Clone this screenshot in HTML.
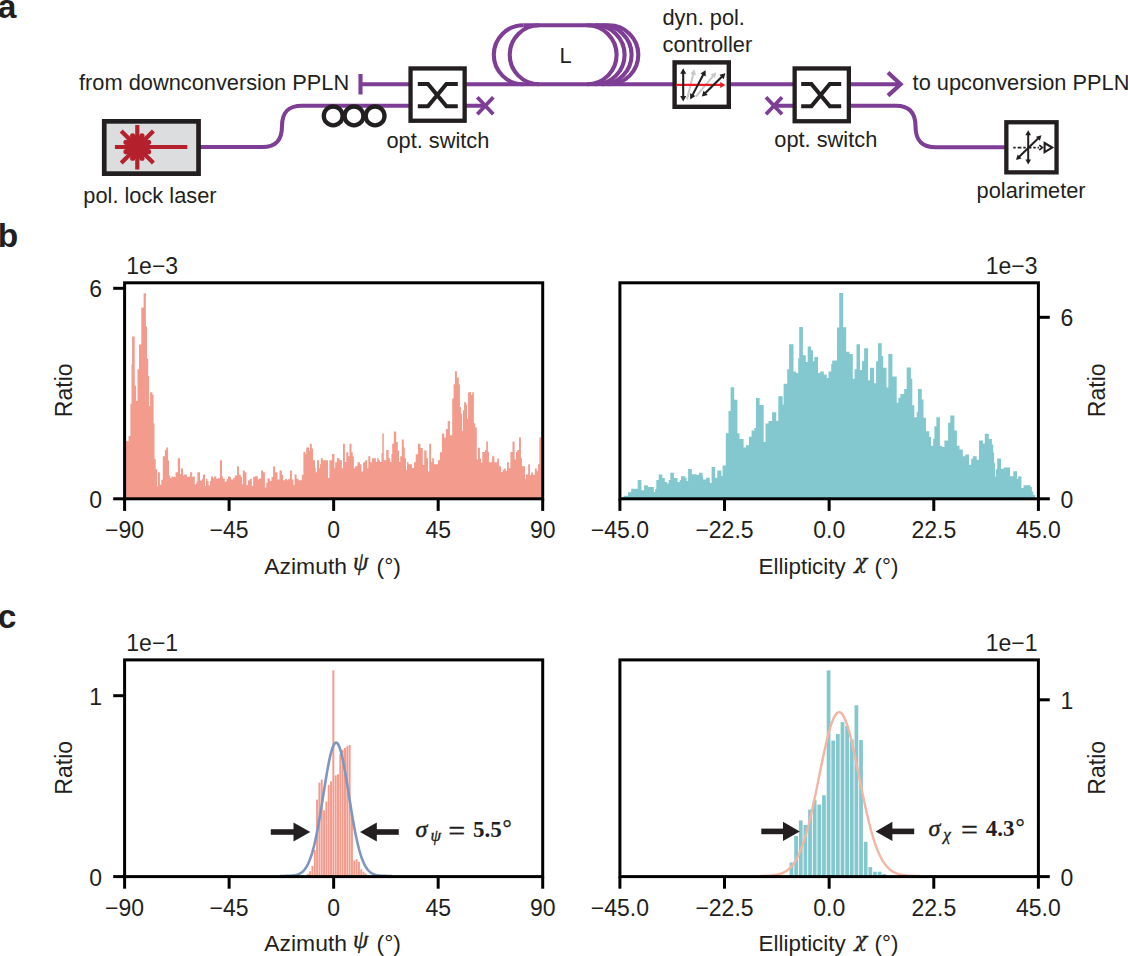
<!DOCTYPE html>
<html lang="en"><head><meta charset="utf-8"><title>Figure</title>
<style>html,body{margin:0;padding:0;background:#fff}svg{display:block}</style></head>
<body>
<svg width="1128" height="956" viewBox="0 0 1128 956" font-family="'Liberation Sans', Arial, Helvetica, sans-serif" fill="#231F20">
<rect width="1128" height="956" fill="#fff"/>
<g id="panel-a" fill="none" stroke="#7E3E96" stroke-width="4.1" stroke-linejoin="round">
<path d="M360.5,74 V94.5 M360.5,84.3 H412"/>
<path d="M199,147 H262.5 C275,147 282,141 282,126 C282,111 289,105.7 302,105.7 H412"/>
<path d="M464,84.3 H676 M464,105.7 H485"/>
<path d="M477.3,97.2 L493.3,114.2 M477.3,114.2 L493.3,97.2" stroke-width="3.8"/>
<path d="M766,97.3 L782,114.3 M766,114.3 L782,97.3" stroke-width="3.8"/>
<path d="M523.3,84.3 A29.5,29.5 0 0 1 523.3,25.299999999999997"/>
<path d="M539.2,84.3 A29.5,29.5 0 0 1 539.2,25.299999999999997"/>
<path d="M608.8,25.299999999999997 A29.5,29.5 0 0 1 608.8,84.3"/>
<path d="M602.1,25.299999999999997 A29.5,29.5 0 0 1 602.1,84.3"/>
<path d="M595.1,25.299999999999997 A29.5,29.5 0 0 1 595.1,84.3"/>
<path d="M587.1,25.299999999999997 A29.5,29.5 0 0 1 587.1,84.3"/>
<path d="M523.3,25.299999999999997 H608.8"/>
<path d="M729,84.3 H795 M774,105.8 H795"/>
<path d="M849,84.3 H899.5"/>
<path d="M888,72.5 L900.6,84.3 L888,95.6" stroke-linejoin="miter"/>
<path d="M849,105.7 H896 C909,105.7 915.5,112 915.5,126 C915.5,141 922,147.3 936,147.3 H1006"/>
</g>
<g fill="none" stroke="#231F20" stroke-width="4.3">
<circle cx="333.2" cy="115.9" r="9.4"/>
<circle cx="354.0" cy="115.9" r="9.4"/>
<circle cx="375.1" cy="115.9" r="9.4"/>
</g>
<rect x="104.25" y="121.35" width="94.30" height="52.30" fill="#DCDDDE" stroke="#231F20" stroke-width="4.7"/>
<rect x="410.55" y="68.45" width="54.10" height="52.30" fill="#fff" stroke="#231F20" stroke-width="4.3"/>
<rect x="674.60" y="62.40" width="54.20" height="44.40" fill="#fff" stroke="#231F20" stroke-width="4.4"/>
<rect x="794.65" y="68.45" width="54.20" height="52.80" fill="#fff" stroke="#231F20" stroke-width="4.3"/>
<rect x="1006.35" y="122.25" width="50.20" height="50.10" fill="#fff" stroke="#231F20" stroke-width="4.3"/>
<path d="M417.8,84 H428.0 L446.40000000000003,106.3 H457.8 M417.8,106.3 H428.0 L446.40000000000003,84 H457.8" fill="none" stroke="#231F20" stroke-width="4.1" stroke-linejoin="miter"/>
<path d="M801.2,84 H811.4000000000001 L829.8000000000001,106.3 H841.2 M801.2,106.3 H811.4000000000001 L829.8000000000001,84 H841.2" fill="none" stroke="#231F20" stroke-width="4.1" stroke-linejoin="miter"/>
<g stroke="#B5202D" stroke-width="4.2" fill="#B5202D">
<path d="M137.3,124.9 V169.6 M114.9,147 H187.3 M121.2,130.9 L153.4,163.1 M121.2,163.1 L153.4,130.9"/>
<circle cx="137.3" cy="147" r="11.6" stroke="none"/>
<circle cx="148.57" cy="151.67" r="2.6" stroke="none"/>
<circle cx="141.97" cy="158.27" r="2.6" stroke="none"/>
<circle cx="132.63" cy="158.27" r="2.6" stroke="none"/>
<circle cx="126.03" cy="151.67" r="2.6" stroke="none"/>
<circle cx="126.03" cy="142.33" r="2.6" stroke="none"/>
<circle cx="132.63" cy="135.73" r="2.6" stroke="none"/>
<circle cx="141.97" cy="135.73" r="2.6" stroke="none"/>
<circle cx="148.57" cy="142.33" r="2.6" stroke="none"/>
</g>
<path d="M687.00,99.50 L693.63,72.45" stroke="#C8C9CB" stroke-width="2.1" fill="none"/>
<path d="M694.40,69.30 L696.03,75.26 L690.20,73.83 Z" fill="#C8C9CB"/>
<path d="M695.90,96.60 L714.22,74.69" stroke="#C8C9CB" stroke-width="2.1" fill="none"/>
<path d="M716.30,72.20 L715.14,78.27 L710.53,74.42 Z" fill="#C8C9CB"/>
<path d="M676.30,84.90 L722.28,84.90" stroke="#ED1C24" stroke-width="2.1" fill="none"/>
<path d="M725.40,84.90 L720.20,87.90 L720.20,81.90 Z" fill="#ED1C24"/>
<path d="M683.20,71.54 L683.20,98.26" stroke="#231F20" stroke-width="2.1" fill="none"/>
<path d="M683.20,101.50 L680.20,96.10 L686.20,96.10 Z" fill="#231F20"/>
<path d="M683.20,68.30 L680.20,73.70 L686.20,73.70 Z" fill="#231F20"/>
<path d="M704.09,73.07 L691.71,96.63" stroke="#231F20" stroke-width="2.1" fill="none"/>
<path d="M690.20,99.50 L690.06,93.32 L695.37,96.12 Z" fill="#231F20"/>
<path d="M705.60,70.20 L700.43,73.58 L705.74,76.38 Z" fill="#231F20"/>
<path d="M723.10,75.48 L704.10,94.32" stroke="#231F20" stroke-width="2.1" fill="none"/>
<path d="M701.80,96.60 L703.52,90.67 L707.75,94.93 Z" fill="#231F20"/>
<path d="M725.40,73.20 L719.45,74.87 L723.68,79.13 Z" fill="#231F20"/>
<path d="M1013.3,147.6 H1039" stroke="#231F20" stroke-width="1.9" stroke-dasharray="2.4 1.9 3.8 1.9" fill="none"/>
<path d="M1039.3,145.2 L1042.3,147.6 L1039.3,150" fill="none" stroke="#231F20" stroke-width="1.7"/>
<path d="M1044.6,143 L1052.2,147.6 L1044.6,152.2 Z" fill="none" stroke="#231F20" stroke-width="2.1" stroke-linejoin="miter"/>
<path d="M1028.20,133.30 L1028.20,161.40" stroke="#231F20" stroke-width="2.0" fill="none"/>
<path d="M1028.20,164.40 L1025.40,159.40 L1031.00,159.40 Z" fill="#231F20"/>
<path d="M1028.20,130.30 L1025.40,135.30 L1031.00,135.30 Z" fill="#231F20"/>
<path d="M1018.15,157.81 L1039.35,137.29" stroke="#231F20" stroke-width="2.0" fill="none"/>
<path d="M1041.50,135.20 L1039.86,140.69 L1035.96,136.67 Z" fill="#231F20"/>
<path d="M1016.00,159.90 L1021.54,158.43 L1017.64,154.41 Z" fill="#231F20"/>
<text x="79.0" y="90.0" font-size="21.8" text-anchor="start" >from downconversion PPLN</text>
<text x="912.6" y="89.6" font-size="21.8" text-anchor="start" >to upconversion PPLN</text>
<text x="386.4" y="147.5" font-size="21.8" text-anchor="start" >opt. switch</text>
<text x="774.3" y="146.8" font-size="21.8" text-anchor="start" >opt. switch</text>
<text x="83.3" y="203.2" font-size="21.8" text-anchor="start" >pol. lock laser</text>
<text x="976.6" y="197.8" font-size="21.8" text-anchor="start" >polarimeter</text>
<text x="662.5" y="24.6" font-size="21.8" text-anchor="start" >dyn. pol.</text>
<text x="662.5" y="51.6" font-size="21.8" text-anchor="start" >controller</text>
<text x="559.4" y="62.8" font-size="21.8" text-anchor="start" >L</text>
<text x="-2.3" y="17.8" font-size="33.5" text-anchor="start" font-weight="bold">a</text>
<text x="-2.3" y="246.9" font-size="33.5" text-anchor="start" font-weight="bold">b</text>
<text x="-2.3" y="628.0" font-size="33.5" text-anchor="start" font-weight="bold">c</text>
<path d="M124.7,498.8V441.2H128.6V436.0H130.4V403.8H131.5V364.5H132.1V336.4H134.7V385.8H136.1V401.0H137.5V369.2H139.0V344.4H141.3V307.6H143.6V293.2H145.9V326.6H147.0V358.8H148.2V376.0H149.0V406.0H150.1V392.3H152.2V394.6H153.6V423.4H154.5V459.0H155.7V469.4H157.1V486.8H157.9V472.3H159.9V484.7H161.3V479.7H162.8V456.2H164.9V449.9H166.3V447.4H168.1V460.6H169.0V475.5H170.2V478.3H171.3V476.5H173.4V476.9H175.5V472.3H177.8V458.3H180.1V474.0H181.0V468.4H183.0V475.5H184.0V474.4H186.9V476.9H188.7V476.5H190.1V472.3H192.2V476.9H192.9V476.5H194.8V484.3H196.5V481.8H197.4V472.3H200.0V480.4H202.1V478.7H203.0V474.4H205.0V486.1H206.0V478.7H207.4V481.1H208.5V485.4H209.9V481.1H211.0V476.5H213.1V478.3H214.2V476.5H216.3V478.7H217.7V478.3H219.9V460.2H222.0V476.5H223.0V478.7H224.8V481.8H226.6V479.0H228.0V476.5H230.0V477.1H231.0V479.5H233.2V477.9H234.8V475.5H237.0V466.3H238.9V474.7H240.8V477.1H242.0V484.3H242.8V470.5H244.8V472.3H246.4V485.1H248.0V480.3H250.0V478.7H251.9V485.9H253.1V476.7H255.1V476.3H257.8V479.5H259.1V478.5H261.1V470.5H263.1V472.3H264.9V487.5H266.3V482.7H267.5V478.5H269.9V481.1H271.5V477.1H273.1V466.6H275.1V472.3H277.5V479.5H279.5V470.5H281.9V474.7H283.1V480.3H285.1V479.1H287.1V480.3H288.3V479.1H289.9V470.5H291.9V479.5H293.4V485.1H294.6V474.5H296.6V478.7H298.6V480.3H301.8V474.7H303.4V451.9H305.4V453.9H306.2V447.4H309.0V450.8H309.8V443.7H311.8V448.4H313.0V460.3H315.0V467.5H315.8V472.3H317.0V460.3H319.0V468.3H320.0V464.3H320.8V458.3H322.8V460.3H328.0V477.9H329.4V460.3H332.0V453.9H334.4V468.3H335.2V462.3H336.9V458.3H339.6V460.3H341.9V468.3H343.0V443.7H344.9V461.9H346.3V452.2H348.3V456.3H349.5V443.7H351.5V452.3H352.7V456.3H353.9V468.3H355.1V466.3H357.5V462.3H359.9V464.3H361.5V471.5H363.1V462.3H365.1V460.3H367.1V468.3H368.3V456.2H370.3V462.3H371.9V458.3H375.9V461.9H377.1V458.3H378.7V460.3H379.9V461.9H381.5V453.1H382.3V433.4H383.8V460.3H386.2V450.1H388.6V458.3H390.2V461.9H391.4V453.9H392.2V443.7H393.8V431.4H396.2V442.0H397.8V450.4H399.0V461.9H400.2V456.3H401.8V439.6H403.8V447.6H404.8V458.3H406.0V469.9H407.0V462.3H408.6V464.3H410.0V464.3H412.0V467.9H414.0V462.3H415.7V454.3H418.0V443.7H420.4V448.0H422.8V465.1H424.2V450.4H426.6V458.3H428.0V471.5H429.2V443.7H431.1V461.9H432.2V458.3H433.9V464.3H437.9V460.3H439.9V452.2H441.9V433.5H444.2V437.8H445.9V429.0H447.7V421.1H449.9V435.3H452.2V398.5H453.6V384.3H454.9V371.3H456.9V377.6H458.8V384.3H459.9V406.9H460.9V413.6H462.2V431.1H463.0V410.2H464.1V402.3H466.0V404.4H467.0V418.6H468.1V392.2H471.0V395.1H472.2V392.2H473.9V423.2H475.2V427.4H476.8V459.5H478.0V447.8H479.9V458.4H481.1V462.7H482.3V452.1H485.0V450.1H486.2V441.5H487.9V451.7H488.9V462.3H492.1V456.2H494.4V462.3H497.2V458.4H498.9V465.8H499.9V466.6H501.1V472.1H502.7V470.1H503.9V468.6H505.8V470.9H507.0V462.3H508.8V468.2H510.4V452.1H512.5V441.5H514.6V459.5H516.0V452.1H517.2V450.1H519.0V437.6H520.9V458.0H521.9V466.2H525.0V479.2H525.8V474.5H528.2V464.2H530.0V475.2H531.1V472.5H532.9V474.8H534.9V468.6H536.8V471.3H538.0V464.2H539.4V437.6H541.0V498.8Z" fill="#F39B8C"/>
<rect x="124.6" y="282.8" width="418.10" height="216.00" fill="none" stroke="#000" stroke-width="3"/>
<path d="M124.60,498.8 V510.90000000000003" stroke="#000" stroke-width="3" fill="none"/>
<text x="124.6" y="538.4" font-size="23.0" text-anchor="middle" >−90</text>
<path d="M229.12,498.8 V510.90000000000003" stroke="#000" stroke-width="3" fill="none"/>
<text x="229.1" y="538.4" font-size="23.0" text-anchor="middle" >−45</text>
<path d="M333.65,498.8 V510.90000000000003" stroke="#000" stroke-width="3" fill="none"/>
<text x="333.6" y="538.4" font-size="23.0" text-anchor="middle" >0</text>
<path d="M438.18,498.8 V510.90000000000003" stroke="#000" stroke-width="3" fill="none"/>
<text x="438.2" y="538.4" font-size="23.0" text-anchor="middle" >45</text>
<path d="M542.70,498.8 V510.90000000000003" stroke="#000" stroke-width="3" fill="none"/>
<text x="542.7" y="538.4" font-size="23.0" text-anchor="middle" >90</text>
<path d="M124.6,288.3 H113.19999999999999" stroke="#000" stroke-width="3" fill="none"/>
<text x="102.0" y="297.4" font-size="23.0" text-anchor="end" >6</text>
<path d="M124.6,498.8 H113.19999999999999" stroke="#000" stroke-width="3" fill="none"/>
<text x="102.0" y="507.9" font-size="23.0" text-anchor="end" >0</text>
<text x="126.3" y="273.6" font-size="23.0" text-anchor="start" >1e−3</text>
<text y="573.7" font-size="22.9"><tspan x="264.3">Azimuth</tspan><tspan x="353.0" dy="-3.6" font-family="'Liberation Serif', 'DejaVu Serif', serif" font-style="italic" font-size="24.5" stroke="#231F20" stroke-width="0.3">ψ</tspan><tspan x="376.6" dy="3.6">(°)</tspan></text>
<text transform="translate(71.8,390.3) rotate(-90)" font-size="23.0" text-anchor="middle">Ratio</text>
<path d="M621.7,498.8V497.0H623.6V495.8H628.0V492.3H631.2V488.7H637.7V479.9H641.4V490.3H644.1V485.3H647.9V487.1H653.9V491.9H655.1V489.1H656.3V479.9H658.7V474.5H662.3V478.1H664.8V481.9H667.1V483.5H668.7V479.9H670.3V472.7H673.9V478.1H677.5V481.9H679.8V479.9H681.0V476.3H685.4V478.1H686.6V481.1H688.1V469.1H691.8V474.3H696.2V474.7H699.0V472.7H702.6V476.3H703.2V479.5H706.2V477.7H709.8V483.0H711.6V467.0H715.1V477.7H717.3V470.6H721.4V475.9H722.6V465.6H725.8V433.2H728.5V411.0H730.6V387.3H734.2V399.8H737.4V433.2H739.5V438.9H743.6V447.4H745.9V445.3H748.9V436.8H751.6V430.5H754.3V427.9H756.0V398.0H759.6V405.1H763.7V442.1H765.5V423.4H768.5V421.1H772.1V412.2H776.2V420.7H778.3V396.2H782.7V404.7H783.6V383.7H787.2V369.2H789.1V344.3H793.5V371.4H796.0V372.9H798.2V358.3H799.2V327.1H802.9V355.3H805.8V361.9H807.7V346.5H811.1V350.2H813.1V361.2H814.3V357.1H818.0V372.9H820.2V371.4H823.8V374.4H826.8V378.0H828.5V371.4H831.2V364.1H832.2V360.5H837.0V327.5H839.2V293.1H843.2V327.2H846.2V351.7H849.5V353.9H852.8V378.8H854.6V369.2H856.5V344.3H860.0V370.0H861.9V361.2H864.1V348.3H868.1V380.2H870.0V367.8H874.1V383.2H876.1V361.2H878.0V343.2H881.7V356.1H883.2V367.8H886.5V387.6H888.3V353.9H892.4V376.5H896.7V402.8H898.4V397.7H900.4V393.9H904.2V388.9H906.7V367.6H910.9V378.8H912.3V405.3H914.3V417.3H916.8V412.0H917.9V388.9H921.8V399.4H923.5V417.8H926.0V431.2H929.3V437.1H931.0V445.8H933.2V438.7H934.4V426.2H936.4V417.3H939.9V445.8H941.9V447.1H944.4V440.4H948.1V422.8H950.3V415.6H954.4V430.4H956.9V445.8H959.5V449.6H962.8V456.3H965.3V454.6H969.0V464.7H971.2V458.8H972.8V456.3H976.7V459.7H979.0V440.4H982.9V443.5H984.8V433.7H988.8V439.0H991.9V444.4H993.2V452.4H994.1V463.0H995.0V476.4H995.9V469.3H997.2V458.6H1001.0V468.8H1003.9V467.5H1010.1V476.2H1013.3V471.2H1017.0V479.1H1018.1V476.4H1021.4V488.0H1023.5V485.3H1030.6V487.1H1031.9V491.5H1033.3V495.1H1035.1V497.3H1036.4V498.8Z" fill="#83C8CF"/>
<rect x="619.9" y="282.8" width="418.50" height="216.00" fill="none" stroke="#000" stroke-width="3"/>
<path d="M619.90,498.8 V510.90000000000003" stroke="#000" stroke-width="3" fill="none"/>
<text x="619.9" y="538.4" font-size="23.0" text-anchor="middle" >−45.0</text>
<path d="M724.52,498.8 V510.90000000000003" stroke="#000" stroke-width="3" fill="none"/>
<text x="724.5" y="538.4" font-size="23.0" text-anchor="middle" >−22.5</text>
<path d="M829.15,498.8 V510.90000000000003" stroke="#000" stroke-width="3" fill="none"/>
<text x="829.2" y="538.4" font-size="23.0" text-anchor="middle" >0.0</text>
<path d="M933.78,498.8 V510.90000000000003" stroke="#000" stroke-width="3" fill="none"/>
<text x="933.8" y="538.4" font-size="23.0" text-anchor="middle" >22.5</text>
<path d="M1038.40,498.8 V510.90000000000003" stroke="#000" stroke-width="3" fill="none"/>
<text x="1038.4" y="538.4" font-size="23.0" text-anchor="middle" >45.0</text>
<path d="M1038.4,317.3 H1049.8000000000002" stroke="#000" stroke-width="3" fill="none"/>
<text x="1060.4" y="326.4" font-size="23.0" text-anchor="start" >6</text>
<path d="M1038.4,498.8 H1049.8000000000002" stroke="#000" stroke-width="3" fill="none"/>
<text x="1060.4" y="507.9" font-size="23.0" text-anchor="start" >0</text>
<text x="1037.6" y="273.6" font-size="23.0" text-anchor="end" >1e−3</text>
<text y="573.7" font-size="22.4"><tspan x="758.6">Ellipticity</tspan><tspan x="854.6" dy="-4.4" font-family="'DejaVu Serif', 'Liberation Serif', serif" font-style="italic" font-size="21" stroke="#231F20" stroke-width="0.3">χ</tspan><tspan x="874.6" dy="4.4">(°)</tspan></text>
<text transform="translate(1105.0,390.3) rotate(-90)" font-size="23.0" text-anchor="middle">Ratio</text>
<g fill="#F39B8C">
<rect x="306.83" y="873.9" width="1.96" height="2.7"/>
<rect x="309.15" y="871.2" width="1.96" height="5.4"/>
<rect x="311.47" y="866" width="1.96" height="10.6"/>
<rect x="313.80" y="850" width="1.96" height="26.6"/>
<rect x="316.12" y="799.6" width="1.96" height="77.0"/>
<rect x="318.44" y="782.6" width="1.96" height="94.0"/>
<rect x="320.76" y="779.5" width="1.96" height="97.1"/>
<rect x="323.09" y="810.3" width="1.96" height="66.3"/>
<rect x="325.41" y="801.5" width="1.96" height="75.1"/>
<rect x="327.73" y="785.1" width="1.96" height="91.5"/>
<rect x="330.06" y="781.4" width="1.96" height="95.2"/>
<rect x="332.38" y="670.3" width="1.96" height="206.3"/>
<rect x="334.70" y="775.4" width="1.96" height="101.2"/>
<rect x="337.03" y="774.3" width="1.96" height="102.3"/>
<rect x="339.35" y="754.2" width="1.96" height="122.4"/>
<rect x="341.67" y="749.8" width="1.96" height="126.8"/>
<rect x="344.00" y="748" width="1.96" height="128.6"/>
<rect x="346.32" y="746.2" width="1.96" height="130.4"/>
<rect x="348.64" y="745.0" width="1.96" height="131.6"/>
<rect x="350.96" y="812" width="1.96" height="64.6"/>
<rect x="353.29" y="860.5" width="1.96" height="16.1"/>
<rect x="355.61" y="859.2" width="1.96" height="17.4"/>
<rect x="357.93" y="861.8" width="1.96" height="14.8"/>
<rect x="360.26" y="869.3" width="1.96" height="7.3"/>
<rect x="362.58" y="871.8" width="1.96" height="4.8"/>
<rect x="364.90" y="873.7" width="1.96" height="2.9"/>
</g>
<polyline points="280.0,876.0 281.0,876.0 282.0,876.0 283.0,876.0 284.0,876.0 285.0,876.0 286.0,875.9 287.0,875.9 288.0,875.9 289.0,875.8 290.0,875.8 291.0,875.7 292.0,875.6 293.0,875.5 294.0,875.4 295.0,875.2 296.0,875.0 297.0,874.7 298.0,874.4 299.0,874.0 300.0,873.5 301.0,872.9 302.0,872.2 303.0,871.3 304.0,870.3 305.0,869.0 306.0,867.6 307.0,865.9 308.0,864.0 309.0,861.8 310.0,859.3 311.0,856.5 312.0,853.3 313.0,849.8 314.0,846.0 315.0,841.7 316.0,837.1 317.0,832.2 318.0,826.9 319.0,821.3 320.0,815.5 321.0,809.5 322.0,803.3 323.0,797.0 324.0,790.7 325.0,784.4 326.0,778.3 327.0,772.4 328.0,766.8 329.0,761.6 330.0,756.9 331.0,752.8 332.0,749.3 333.0,746.5 334.0,744.4 335.0,743.1 336.0,742.6 337.0,742.9 338.0,744.1 339.0,746.0 340.0,748.7 341.0,752.0 342.0,756.0 343.0,760.6 344.0,765.7 345.0,771.2 346.0,777.1 347.0,783.2 348.0,789.4 349.0,795.7 350.0,802.0 351.0,808.2 352.0,814.3 353.0,820.2 354.0,825.8 355.0,831.2 356.0,836.2 357.0,840.8 358.0,845.1 359.0,849.1 360.0,852.7 361.0,855.9 362.0,858.8 363.0,861.3 364.0,863.6 365.0,865.6 366.0,867.3 367.0,868.8 368.0,870.0 369.0,871.1 370.0,872.0 371.0,872.8 372.0,873.4 373.0,873.9 374.0,874.3 375.0,874.7 376.0,875.0 377.0,875.2 378.0,875.4 379.0,875.5 380.0,875.6 381.0,875.7 382.0,875.8 383.0,875.8 384.0,875.9 385.0,875.9 386.0,875.9 387.0,876.0 388.0,876.0 389.0,876.0 390.0,876.0 391.0,876.0 392.0,876.0" fill="none" stroke="#7F97C0" stroke-width="2.6" stroke-linejoin="round"/>
<rect x="124.6" y="659.9" width="418.10" height="216.70" fill="none" stroke="#000" stroke-width="3"/>
<path d="M124.60,876.6 V888.7" stroke="#000" stroke-width="3" fill="none"/>
<text x="124.6" y="916.2" font-size="23.0" text-anchor="middle" >−90</text>
<path d="M229.12,876.6 V888.7" stroke="#000" stroke-width="3" fill="none"/>
<text x="229.1" y="916.2" font-size="23.0" text-anchor="middle" >−45</text>
<path d="M333.65,876.6 V888.7" stroke="#000" stroke-width="3" fill="none"/>
<text x="333.6" y="916.2" font-size="23.0" text-anchor="middle" >0</text>
<path d="M438.18,876.6 V888.7" stroke="#000" stroke-width="3" fill="none"/>
<text x="438.2" y="916.2" font-size="23.0" text-anchor="middle" >45</text>
<path d="M542.70,876.6 V888.7" stroke="#000" stroke-width="3" fill="none"/>
<text x="542.7" y="916.2" font-size="23.0" text-anchor="middle" >90</text>
<path d="M124.6,695.7 H113.19999999999999" stroke="#000" stroke-width="3" fill="none"/>
<text x="102.0" y="704.8" font-size="23.0" text-anchor="end" >1</text>
<path d="M124.6,876.6 H113.19999999999999" stroke="#000" stroke-width="3" fill="none"/>
<text x="102.0" y="885.7" font-size="23.0" text-anchor="end" >0</text>
<text x="126.3" y="650.9" font-size="23.0" text-anchor="start" >1e−1</text>
<text y="951.4" font-size="22.9"><tspan x="264.3">Azimuth</tspan><tspan x="353.0" dy="-3.6" font-family="'Liberation Serif', 'DejaVu Serif', serif" font-style="italic" font-size="24.5" stroke="#231F20" stroke-width="0.3">ψ</tspan><tspan x="376.6" dy="3.6">(°)</tspan></text>
<text transform="translate(71.8,767.8) rotate(-90)" font-size="23.0" text-anchor="middle">Ratio</text>
<g fill="#83C8CF">
<rect x="789.60" y="862.5" width="3.75" height="14.1"/>
<rect x="794.24" y="836" width="3.75" height="40.6"/>
<rect x="798.87" y="820.4" width="3.75" height="56.2"/>
<rect x="803.51" y="825" width="3.75" height="51.6"/>
<rect x="808.15" y="809.6" width="3.75" height="67.0"/>
<rect x="812.78" y="799.9" width="3.75" height="76.7"/>
<rect x="817.42" y="804.5" width="3.75" height="72.1"/>
<rect x="822.06" y="795.3" width="3.75" height="81.3"/>
<rect x="826.70" y="670.4" width="3.75" height="206.2"/>
<rect x="831.33" y="740.6" width="3.75" height="136.0"/>
<rect x="835.97" y="734.1" width="3.75" height="142.5"/>
<rect x="840.61" y="722.1" width="3.75" height="154.5"/>
<rect x="845.24" y="725.6" width="3.75" height="151.0"/>
<rect x="849.88" y="739.4" width="3.75" height="137.2"/>
<rect x="854.52" y="705.3" width="3.75" height="171.3"/>
<rect x="859.15" y="740.1" width="3.75" height="136.5"/>
<rect x="863.79" y="841.8" width="3.75" height="34.8"/>
<rect x="868.43" y="867.1" width="3.75" height="9.5"/>
<rect x="873.07" y="871.7" width="3.75" height="4.9"/>
<rect x="877.70" y="871.7" width="3.75" height="4.9"/>
<rect x="882.34" y="874" width="3.75" height="2.6"/>
</g>
<polyline points="760.0,875.9 761.0,875.9 762.0,875.9 763.0,875.9 764.0,875.9 765.0,875.8 766.0,875.8 767.0,875.8 768.0,875.7 769.0,875.6 770.0,875.6 771.0,875.5 772.0,875.4 773.0,875.3 774.0,875.2 775.0,875.0 776.0,874.9 777.0,874.7 778.0,874.5 779.0,874.2 780.0,873.9 781.0,873.6 782.0,873.2 783.0,872.8 784.0,872.3 785.0,871.8 786.0,871.2 787.0,870.5 788.0,869.7 789.0,868.9 790.0,868.0 791.0,866.9 792.0,865.8 793.0,864.5 794.0,863.1 795.0,861.6 796.0,859.9 797.0,858.1 798.0,856.2 799.0,854.1 800.0,851.8 801.0,849.3 802.0,846.7 803.0,843.9 804.0,840.9 805.0,837.7 806.0,834.4 807.0,830.8 808.0,827.1 809.0,823.2 810.0,819.2 811.0,815.0 812.0,810.6 813.0,806.1 814.0,801.5 815.0,796.7 816.0,791.9 817.0,787.0 818.0,782.1 819.0,777.1 820.0,772.2 821.0,767.2 822.0,762.3 823.0,757.5 824.0,752.8 825.0,748.2 826.0,743.8 827.0,739.6 828.0,735.6 829.0,731.8 830.0,728.3 831.0,725.1 832.0,722.2 833.0,719.6 834.0,717.4 835.0,715.6 836.0,714.2 837.0,713.1 838.0,712.4 839.0,712.2 840.0,712.4 841.0,712.9 842.0,713.9 843.0,715.3 844.0,717.0 845.0,719.2 846.0,721.7 847.0,724.5 848.0,727.6 849.0,731.1 850.0,734.8 851.0,738.8 852.0,743.0 853.0,747.3 854.0,751.9 855.0,756.6 856.0,761.4 857.0,766.3 858.0,771.2 859.0,776.2 860.0,781.1 861.0,786.1 862.0,791.0 863.0,795.8 864.0,800.5 865.0,805.2 866.0,809.7 867.0,814.1 868.0,818.3 869.0,822.4 870.0,826.3 871.0,830.1 872.0,833.7 873.0,837.1 874.0,840.3 875.0,843.3 876.0,846.1 877.0,848.8 878.0,851.3 879.0,853.6 880.0,855.8 881.0,857.8 882.0,859.6 883.0,861.3 884.0,862.8 885.0,864.2 886.0,865.5 887.0,866.7 888.0,867.8 889.0,868.7 890.0,869.6 891.0,870.4 892.0,871.0 893.0,871.7 894.0,872.2 895.0,872.7 896.0,873.1 897.0,873.5 898.0,873.9 899.0,874.2 900.0,874.4 901.0,874.6 902.0,874.8 903.0,875.0 904.0,875.2 905.0,875.3 906.0,875.4 907.0,875.5 908.0,875.6 909.0,875.6 910.0,875.7 911.0,875.7 912.0,875.8 913.0,875.8 914.0,875.9 915.0,875.9 916.0,875.9 917.0,875.9 918.0,875.9 919.0,875.9 920.0,876.0" fill="none" stroke="#F5B5A3" stroke-width="2.4" stroke-linejoin="round"/>
<rect x="619.9" y="659.9" width="418.50" height="216.70" fill="none" stroke="#000" stroke-width="3"/>
<path d="M619.90,876.6 V888.7" stroke="#000" stroke-width="3" fill="none"/>
<text x="619.9" y="916.2" font-size="23.0" text-anchor="middle" >−45.0</text>
<path d="M724.52,876.6 V888.7" stroke="#000" stroke-width="3" fill="none"/>
<text x="724.5" y="916.2" font-size="23.0" text-anchor="middle" >−22.5</text>
<path d="M829.15,876.6 V888.7" stroke="#000" stroke-width="3" fill="none"/>
<text x="829.2" y="916.2" font-size="23.0" text-anchor="middle" >0.0</text>
<path d="M933.78,876.6 V888.7" stroke="#000" stroke-width="3" fill="none"/>
<text x="933.8" y="916.2" font-size="23.0" text-anchor="middle" >22.5</text>
<path d="M1038.40,876.6 V888.7" stroke="#000" stroke-width="3" fill="none"/>
<text x="1038.4" y="916.2" font-size="23.0" text-anchor="middle" >45.0</text>
<path d="M1038.4,699.8 H1049.8000000000002" stroke="#000" stroke-width="3" fill="none"/>
<text x="1060.4" y="708.9" font-size="23.0" text-anchor="start" >1</text>
<path d="M1038.4,876.6 H1049.8000000000002" stroke="#000" stroke-width="3" fill="none"/>
<text x="1060.4" y="885.7" font-size="23.0" text-anchor="start" >0</text>
<text x="1037.6" y="650.9" font-size="23.0" text-anchor="end" >1e−1</text>
<text y="951.4" font-size="22.4"><tspan x="758.6">Ellipticity</tspan><tspan x="854.6" dy="-4.4" font-family="'DejaVu Serif', 'Liberation Serif', serif" font-style="italic" font-size="21" stroke="#231F20" stroke-width="0.3">χ</tspan><tspan x="874.6" dy="4.4">(°)</tspan></text>
<text transform="translate(1105.0,767.8) rotate(-90)" font-size="23.0" text-anchor="middle">Ratio</text>
<path d="M270.8,832.0 H294.5" stroke="#231F20" stroke-width="5.6" fill="none"/>
<path d="M310.3,832.0 L293.5,822.4 L293.5,841.6 Z" fill="#231F20"/>
<path d="M398.8,832.0 H375.8" stroke="#231F20" stroke-width="5.6" fill="none"/>
<path d="M360.0,832.0 L376.8,822.4 L376.8,841.6 Z" fill="#231F20"/>
<path d="M761.3,831.4 H784.0" stroke="#231F20" stroke-width="5.6" fill="none"/>
<path d="M799.8,831.4 L783.0,821.8 L783.0,841.0 Z" fill="#231F20"/>
<path d="M914.2,831.4 H891.4" stroke="#231F20" stroke-width="5.6" fill="none"/>
<path d="M875.6,831.4 L892.4,821.8 L892.4,841.0 Z" fill="#231F20"/>
<text y="837.3" font-size="23" font-family="'Liberation Serif', 'DejaVu Serif', serif"><tspan x="415.6" font-style="italic" font-size="24" stroke="#231F20" stroke-width="0.5">σ</tspan><tspan x="430.40000000000003" font-style="italic" font-size="17" dy="3.8" stroke="#231F20" stroke-width="0.35">ψ</tspan><tspan x="448.20000000000005" dy="-0.6" font-size="30" stroke="#231F20" stroke-width="0.3">=</tspan><tspan x="473.0" dy="-3.2" font-weight="bold">5.5</tspan><tspan x="502.6" dy="-1.2" stroke="#231F20" stroke-width="0.3">°</tspan></text>
<text y="836.3" font-size="23" font-family="'Liberation Serif', 'DejaVu Serif', serif"><tspan x="928.4" font-style="italic" font-size="24" stroke="#231F20" stroke-width="0.5">σ</tspan><tspan x="943.1999999999999" font-style="italic" font-size="17" dy="3.8" stroke="#231F20" stroke-width="0.35">χ</tspan><tspan x="961.0" dy="-0.6" font-size="30" stroke="#231F20" stroke-width="0.3">=</tspan><tspan x="985.8" dy="-3.2" font-weight="bold">4.3</tspan><tspan x="1015.4" dy="-1.2" stroke="#231F20" stroke-width="0.3">°</tspan></text>
</svg>
</body></html>
